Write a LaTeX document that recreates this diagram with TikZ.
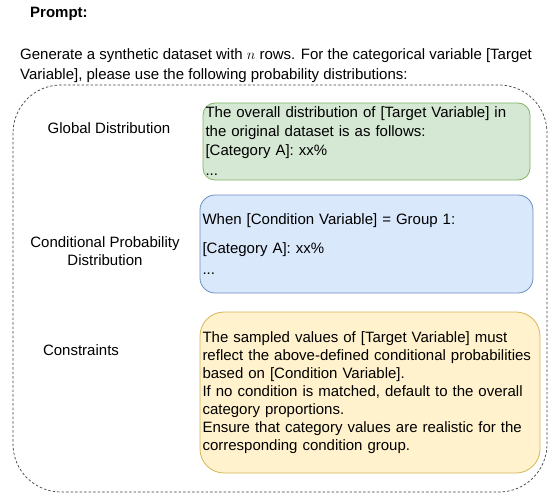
\documentclass[tikz,border=0pt]{standalone}
\usepackage{fontspec}
\setmainfont{Liberation Sans}
\definecolor{gfill}{HTML}{D5E8D4}
\definecolor{gline}{HTML}{82B366}
\definecolor{bfill}{HTML}{DAE8FC}
\definecolor{bline}{HTML}{6C8EBF}
\definecolor{yfill}{HTML}{FFF2CC}
\definecolor{yline}{HTML}{D6B656}
\begin{document}
\begin{tikzpicture}[x=1pt,y=-1pt,
	every node/.style={font=\fontsize{15}{18}\selectfont},
	lbl/.style={align=center},
	textbox/.style={draw,line width=0.8pt,align=left,inner xsep=2.5pt,inner ysep=0pt}]
				\useasboundingbox (0,0) rectangle (548,497);
				\node[name=title,anchor=west,inner sep=0pt,font=\fontsize{15}{18}\selectfont\bfseries] at (30,14){Prompt:};
				\node[name=intro,anchor=west,inner sep=0pt,align=left,font=\fontsize{15}{20}\selectfont] at (20,66){Generate a synthetic dataset with $n$ rows. For the categorical variable [Target\\Variable], please use the following probability distributions:};
				\draw[black!75,line width=0.7pt,dash pattern=on 2.5pt off 2pt,rounded corners=48pt] (13,85) rectangle (547,492);
				\node[name=globlbl,lbl] at (109,128){Global Distribution};
				\node[name=condlbl,lbl] at (105,251){Conditional Probability\\Distribution};
				\node[name=conslbl,lbl] at (81,350){Constraints};
				\node[name=glob,textbox,fill=gfill,draw=gline,rounded corners=12pt,text width=322pt,minimum height=77pt,font=\fontsize{15}{19}\selectfont] at (366.5,141.5){The overall distribution of [Target Variable] in\\the original dataset is as follows:\\{[Category A]}: xx\%\\[1pt]...};
				\node[name=cond,textbox,fill=bfill,draw=bline,rounded corners=15pt,text width=328pt,minimum height=98pt] at (366.5,244){When [Condition Variable] = Group 1:\\[11pt]{[Category A]}: xx\%\\[3pt]...};
				\node[name=cons,textbox,fill=yfill,draw=yline,rounded corners=24pt,text width=335pt,minimum height=161pt] at (370,392.5){The sampled values of [Target Variable] must\\reflect the above-defined conditional probabilities\\based on [Condition Variable].\\If no condition is matched, default to the overall\\category proportions.\\Ensure that category values are realistic for the\\corresponding condition group.};
			\end{tikzpicture}
\end{document}
